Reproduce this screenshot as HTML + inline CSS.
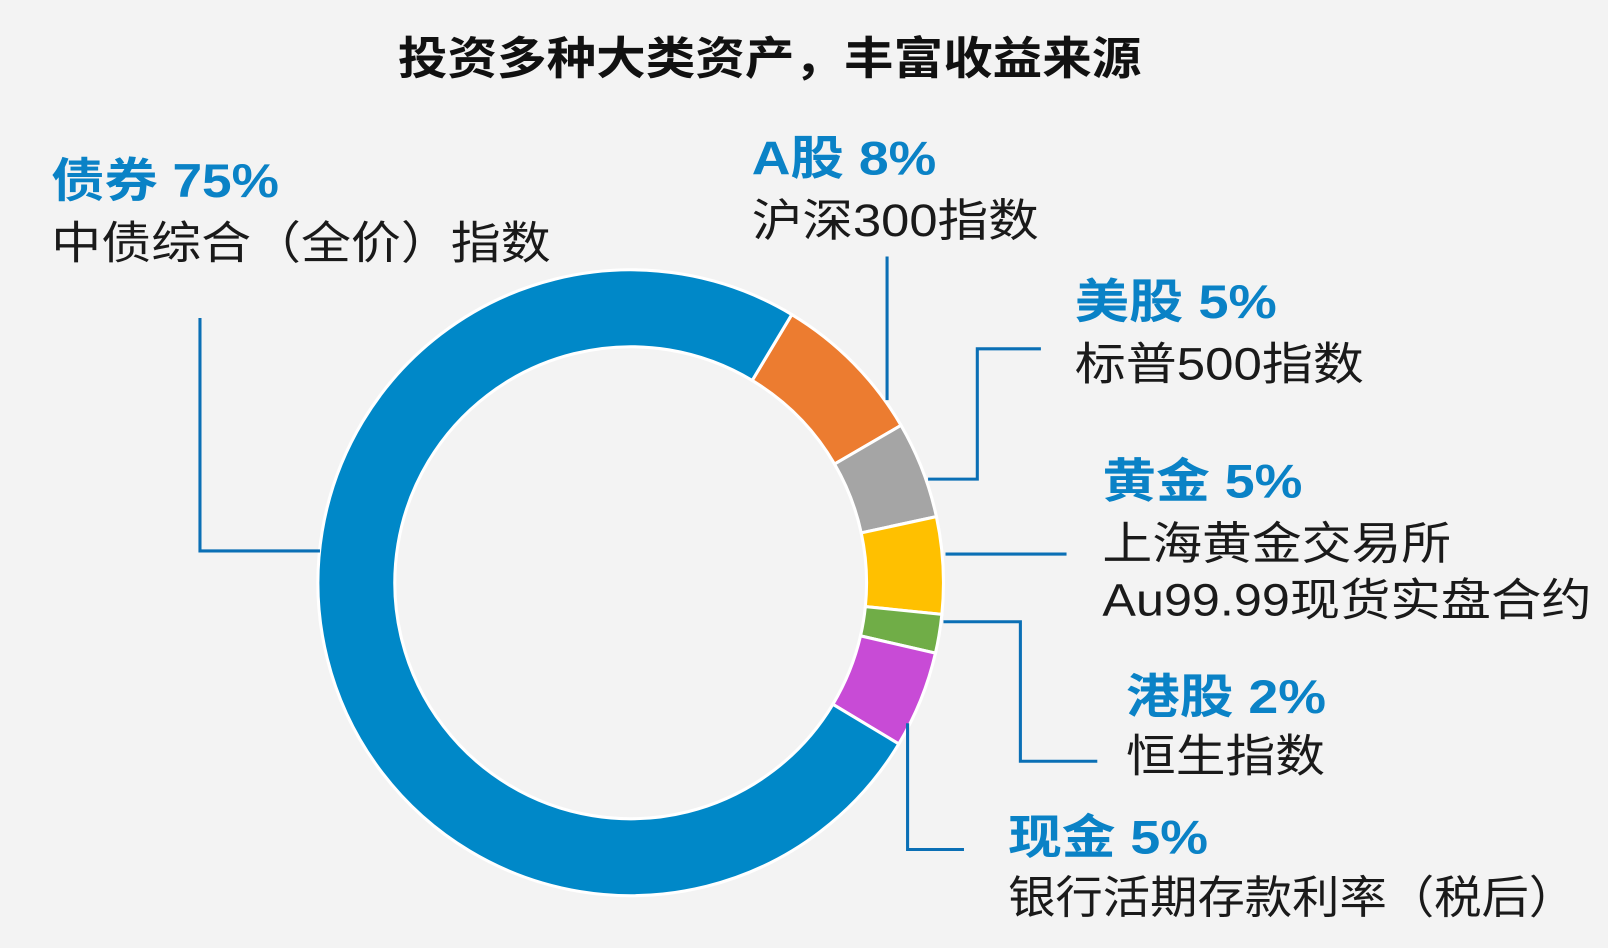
<!DOCTYPE html>
<html><head><meta charset="utf-8"><style>
html,body{margin:0;padding:0;background:#f3f3f3;}
svg{display:block}
text{font-family:"Liberation Sans","Noto Sans CJK SC",sans-serif;}
.b{fill:#0a82c6;font-weight:bold;font-size:46px;}
.d{fill:#1a1a1a;font-size:44px;}
</style></head><body>
<svg id="s" width="1608" height="948" viewBox="0 0 1568 924" preserveAspectRatio="none" xmlns="http://www.w3.org/2000/svg">
<rect width="1568" height="924" fill="#f3f3f3"/>
<g id="pie"></g>
<g fill="none" stroke="#0a6fb5" stroke-width="3">
<polyline points="195,310 195,537 312,537"/>
<polyline points="865,250 865,390"/>
<polyline points="1015,340 953,340 953,467 905,467"/>
<polyline points="922,540 1040,540"/>
<polyline points="920,606 995,606 995,742 1070,742"/>
<polyline points="885,705 885,828 940,828"/>
</g>
<text x="388" y="72" textLength="725" lengthAdjust="spacingAndGlyphs" font-size="44" font-weight="bold" fill="#111">投资多种大类资产，丰富收益来源</text>
<text class="b" x="50" y="192" textLength="222" lengthAdjust="spacingAndGlyphs">债券 75%</text>
<text class="d" x="50" y="252" textLength="487" lengthAdjust="spacingAndGlyphs">中债综合（全价）指数</text>
<text class="b" x="733" y="170" textLength="180" lengthAdjust="spacingAndGlyphs">A股 8%</text>
<text class="d" x="733" y="230" textLength="280" lengthAdjust="spacingAndGlyphs">沪深300指数</text>
<text class="b" x="1048" y="310" textLength="197" lengthAdjust="spacingAndGlyphs">美股 5%</text>
<text class="d" x="1048" y="370" textLength="282" lengthAdjust="spacingAndGlyphs">标普500指数</text>
<text class="b" x="1075" y="485" textLength="195" lengthAdjust="spacingAndGlyphs">黄金 5%</text>
<text class="d" x="1075" y="545" textLength="340" lengthAdjust="spacingAndGlyphs">上海黄金交易所</text>
<text class="d" x="1075" y="600" textLength="477" lengthAdjust="spacingAndGlyphs">Au99.99现货实盘合约</text>
<text class="b" x="1098" y="695" textLength="195" lengthAdjust="spacingAndGlyphs">港股 2%</text>
<text class="d" x="1098" y="752" textLength="194" lengthAdjust="spacingAndGlyphs">恒生指数</text>
<text class="b" x="983" y="832" textLength="195" lengthAdjust="spacingAndGlyphs">现金 5%</text>
<text class="d" x="983" y="890" textLength="554" lengthAdjust="spacingAndGlyphs">银行活期存款利率（税后）</text>
</svg>
<script>
var cx=615,cy=568,R=305,r=230;
var sl=[[8,"#ec7c30"],[5,"#a5a5a5"],[5,"#ffc000"],[2,"#70ad47"],[5,"#c84bd6"],[75,"#0088c8"]];
var a=31,h="";
function p(ang,rad){var t=(ang-90)*Math.PI/180;return (cx+rad*Math.cos(t)).toFixed(2)+","+(cy+rad*Math.sin(t)).toFixed(2);}
sl.forEach(function(s){var b=a+s[0]*3.6;var L=(b-a)>180?1:0;
h+='<path d="M'+p(a,R)+' A'+R+','+R+' 0 '+L+' 1 '+p(b,R)+' L'+p(b,r)+' A'+r+','+r+' 0 '+L+' 0 '+p(a,r)+' Z" fill="'+s[1]+'" stroke="#fff" stroke-width="3"/>';a=b;});
document.getElementById("pie").innerHTML=h;
</script>
</body></html>
